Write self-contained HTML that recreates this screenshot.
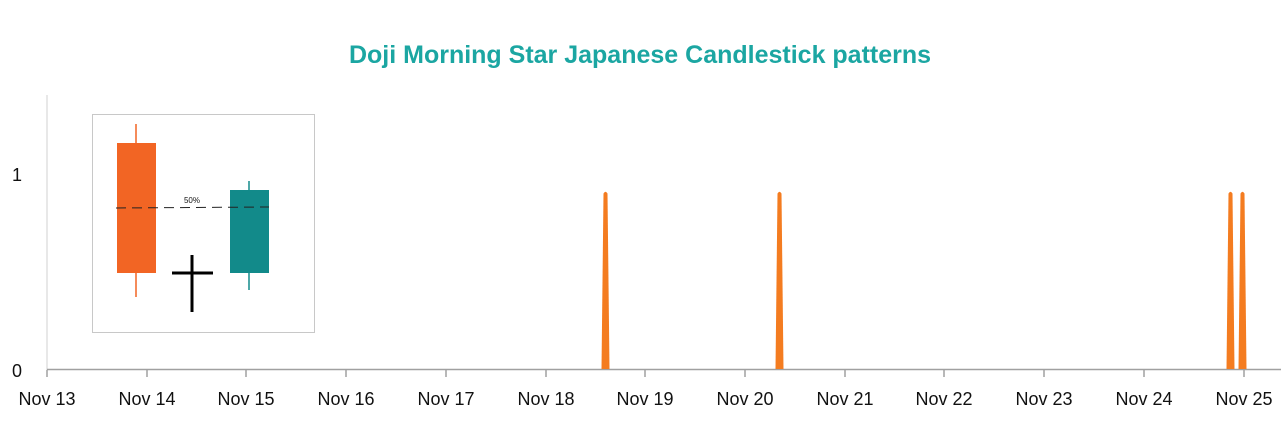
<!DOCTYPE html>
<html><head><meta charset="utf-8"><style>body{margin:0;background:#fff}svg{display:block}</style></head><body>
<svg width="1281" height="447" xmlns="http://www.w3.org/2000/svg" font-family="Liberation Sans, sans-serif">
<text x="640" y="63" text-anchor="middle" font-size="25" font-weight="bold" fill="#1ba6a2">Doji Morning Star Japanese Candlestick patterns</text>
<line x1="47" y1="95" x2="47" y2="370" stroke="#d0d0d0" stroke-width="1"/>
<line x1="47" y1="369.5" x2="1281" y2="369.5" stroke="#a0a0a0" stroke-width="1.5"/>
<text x="22" y="181" text-anchor="end" font-size="18" fill="#111">1</text>
<text x="22" y="377" text-anchor="end" font-size="18" fill="#111">0</text>
<g stroke="#a0a0a0" stroke-width="1.5">
<line x1="47" y1="370" x2="47" y2="377"/><line x1="147" y1="370" x2="147" y2="377"/><line x1="246" y1="370" x2="246" y2="377"/><line x1="346" y1="370" x2="346" y2="377"/><line x1="446" y1="370" x2="446" y2="377"/><line x1="546" y1="370" x2="546" y2="377"/><line x1="645" y1="370" x2="645" y2="377"/><line x1="745" y1="370" x2="745" y2="377"/><line x1="845" y1="370" x2="845" y2="377"/><line x1="944" y1="370" x2="944" y2="377"/><line x1="1044" y1="370" x2="1044" y2="377"/><line x1="1144" y1="370" x2="1144" y2="377"/><line x1="1244" y1="370" x2="1244" y2="377"/>
</g>
<g font-size="18" fill="#111" text-anchor="middle">
<text x="47" y="405">Nov 13</text><text x="147" y="405">Nov 14</text><text x="246" y="405">Nov 15</text><text x="346" y="405">Nov 16</text><text x="446" y="405">Nov 17</text><text x="546" y="405">Nov 18</text><text x="645" y="405">Nov 19</text><text x="745" y="405">Nov 20</text><text x="845" y="405">Nov 21</text><text x="944" y="405">Nov 22</text><text x="1044" y="405">Nov 23</text><text x="1144" y="405">Nov 24</text><text x="1244" y="405">Nov 25</text>
</g>
<g fill="#f47c20">
<path d="M601.5,369 L603.5,193.5 Q605.5,190 607.5,193.5 L609.5,369 Z"/>
<path d="M775.5,369 L777.5,193.5 Q779.5,190 781.5,193.5 L783.5,369 Z"/>
<path d="M1226.5,369 L1228.5,193.5 Q1230.5,190 1232.5,193.5 L1234.5,369 Z"/>
<path d="M1238.5,369 L1240.5,193.5 Q1242.5,190 1244.5,193.5 L1246.5,369 Z"/>
</g>
<rect x="92.5" y="114.5" width="222" height="218" fill="#fff" stroke="#c8c8c8"/>
<line x1="136" y1="124" x2="136" y2="297" stroke="#f26524" stroke-width="1.5"/>
<rect x="117" y="143" width="39" height="130" fill="#f26524"/>
<line x1="249" y1="181" x2="249" y2="290" stroke="#128a8a" stroke-width="1.5"/>
<rect x="230" y="190" width="39" height="83" fill="#128a8a"/>
<line x1="172" y1="273" x2="213" y2="273" stroke="#000" stroke-width="3"/>
<line x1="192" y1="255" x2="192" y2="312" stroke="#000" stroke-width="3"/>
<line x1="116" y1="208" x2="269" y2="207" stroke="#222" stroke-width="1" stroke-dasharray="10,6"/>
<text x="192" y="203" text-anchor="middle" font-size="8" fill="#111">50%</text>
</svg>
</body></html>
